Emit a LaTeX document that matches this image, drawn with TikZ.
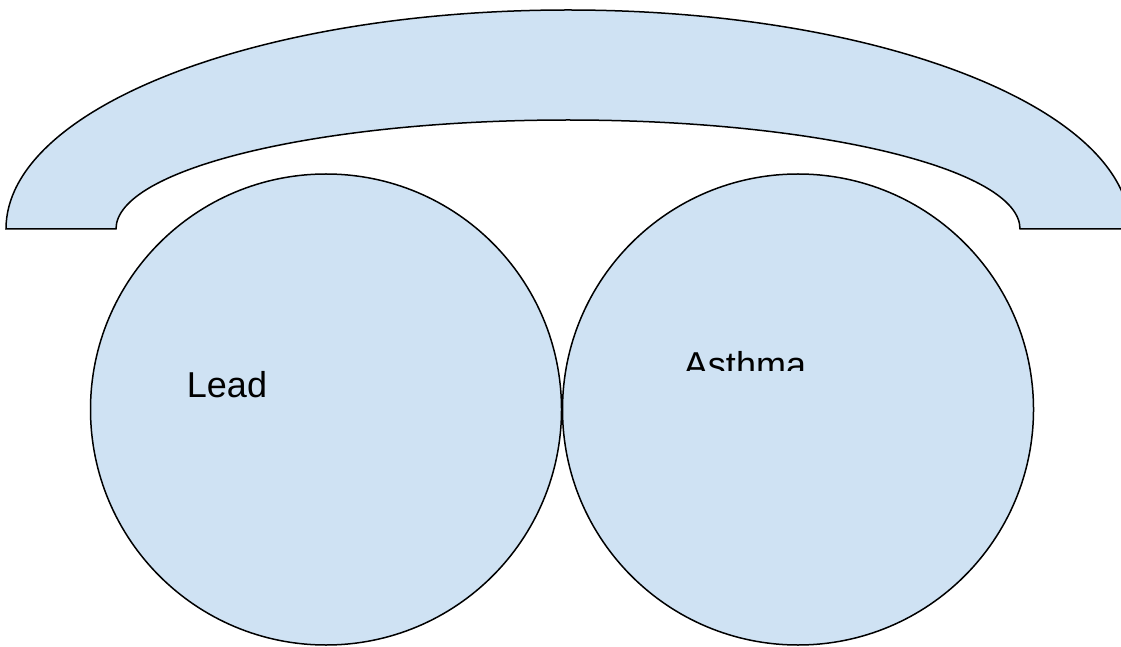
\documentclass[tikz,border=0pt]{standalone}
\usepackage{fontspec}
\setmainfont{Liberation Sans}
\usepackage{tikz}
\usetikzlibrary{positioning}

\definecolor{paleblue}{HTML}{CFE2F3}

\begin{document}
\begin{tikzpicture}[
  x=1pt, y=1pt,
  shade/.style={draw, fill=paleblue, line width=1.5pt},
  disc/.style={shade, circle, minimum size=471pt, inner sep=0pt},
  lbl/.style={font=\fontsize{36}{43}\selectfont, anchor=base, inner sep=0pt},
]
\clip (0,0) rectangle (1121,646);

% Arch
\draw[shade] (6,417) arc[start angle=180, end angle=0, x radius=562, y radius=219]
  -- (1020,417) arc[start angle=0, end angle=180, x radius=452, y radius=109] -- cycle;

% Circles
\node[disc] (leadC) at (326,236.5) {};
\node[disc] (asthmaC) at (798,236.5) {};

% Labels
\node[lbl] (lead) at (227,249) {Lead};
\begin{scope}
  \clip (600,276) rectangle (900,330);
  \node[lbl] (asthma) at (745,269) {Asthma};
\end{scope}

\end{tikzpicture}
\end{document}
